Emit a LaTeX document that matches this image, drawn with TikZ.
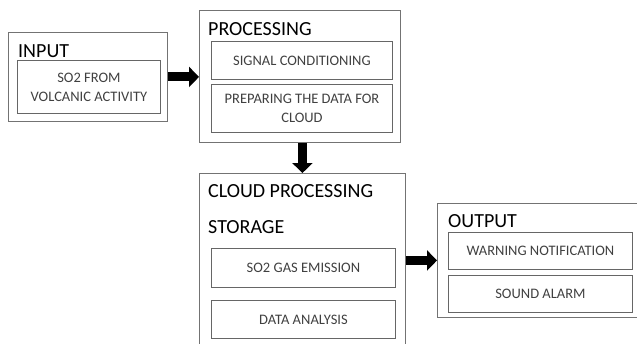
\documentclass[tikz,border=0pt]{standalone}
\usepackage{fontspec}
\setmainfont{Carlito}
\usetikzlibrary{arrows.meta}

\begin{document}
\begin{tikzpicture}[x=1pt,y=-1pt]
        % Styles
        \tikzstyle{outer box}=[draw=black!55,line width=0.9pt,inner sep=0pt,anchor=north west]
        \tikzstyle{inner box}=[draw=black!60,line width=0.9pt,inner sep=0pt,anchor=north west,align=center,text=black!75,font=\fontsize{14.5}{19}\selectfont]
        \tikzstyle{title text}=[anchor=base west,inner sep=0pt,font=\fontsize{20}{24}\selectfont]
        \tikzstyle{block arrow}=[line width=9pt,-{Triangle[length=10pt,width=20pt]}]
        %The graphic
        \clip (0,0) rectangle (637,343);
        %input
        \node[outer box,minimum width=159pt,minimum height=89pt] (inbox) at (8,32) {};
        \node[title text] (intitle) at (18,57) {INPUT};
        \node[inner box,minimum width=143pt,minimum height=53pt] (volcano) at (17,60) {SO2 FROM\\VOLCANIC ACTIVITY};
        %processing
        \node[outer box,minimum width=201pt,minimum height=132pt] (procbox) at (199,10) {};
        \node[title text] (proctitle) at (208,35) {PROCESSING};
        \node[inner box,minimum width=181pt,minimum height=38pt] (signal) at (211,41) {SIGNAL CONDITIONING};
        \node[inner box,minimum width=181pt,minimum height=48pt] (prepare) at (211,84) {PREPARING THE DATA FOR\\CLOUD};
        %cloud
        \node[outer box,minimum width=206pt,minimum height=190pt] (cloudbox) at (199,173) {};
        \node[title text] (cloudtitle) at (208,197) {CLOUD PROCESSING};
        \node[title text] (storetitle) at (208,233) {STORAGE};
        \node[inner box,minimum width=184pt,minimum height=39pt] (emission) at (211,248) {SO2 GAS EMISSION};
        \node[inner box,minimum width=184pt,minimum height=38pt] (analysis) at (211,300) {DATA ANALYSIS};
        %output
        \node[outer box,minimum width=199.5pt,minimum height=114pt] (outbox) at (437,203) {};
        \node[title text] (outtitle) at (448,227) {OUTPUT};
        \node[inner box,minimum width=184pt,minimum height=37pt] (warning) at (448,232) {WARNING NOTIFICATION};
        \node[inner box,minimum width=184pt,minimum height=37pt] (alarm) at (448,275) {SOUND ALARM};
        %arrows
        \draw[block arrow] (inbox.east) -- (inbox.east -| procbox.west);
        \draw[block arrow] (procbox.south -| cloudbox.north) -- (cloudbox.north);
        \draw[block arrow] (outbox.west -| cloudbox.east) -- (outbox.west);
\end{tikzpicture}
\end{document}
